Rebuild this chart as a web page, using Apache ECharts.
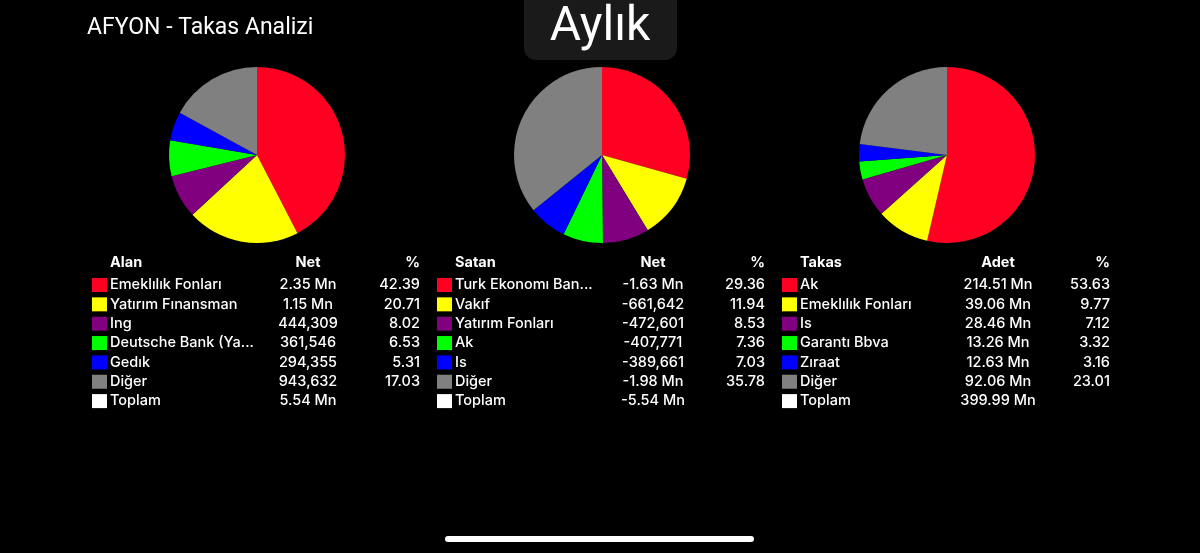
<!DOCTYPE html>
<html>
<head>
<meta charset="utf-8">
<title>AFYON - Takas Analizi</title>
<script src="https://cdn.jsdelivr.net/npm/echarts@6.0.0/dist/echarts.min.js"></script>
<style>
  html, body { margin: 0; padding: 0; background: #000; }
  #chart { width: 1200px; height: 553px; }
</style>
</head>
<body>
<div id="chart"></div>
<script>
// dilim renkleri (kırmızı, sarı, mor, yeşil, mavi, gri)
const sliceColors = ['#ff0022', '#ffff00', '#800080', '#00ff00', '#0000ff', '#808080'];

// Alan
const alanNames = ['Emeklılık Fonları', 'Yatırım Fınansman', 'Ing', 'Deutsche Bank (Ya...', 'Gedık', 'Diğer'];
const alanNet = ['2.35 Mn', '1.15 Mn', '444,309', '361,546', '294,355', '943,632'];
const alanPct = [42.39, 20.71, 8.02, 6.53, 5.31, 17.03];
const alanTotal = '5.54 Mn';

// Satan
const satanNames = ['Turk Ekonomı Ban...', 'Vakıf', 'Yatırım Fonları', 'Ak', 'Is', 'Diğer'];
const satanNet = ['-1.63 Mn', '-661,642', '-472,601', '-407,771', '-389,661', '-1.98 Mn'];
const satanPct = [29.36, 11.94, 8.53, 7.36, 7.03, 35.78];
const satanTotal = '-5.54 Mn';

// Takas
const takasNames = ['Ak', 'Emeklılık Fonları', 'Is', 'Garantı Bbva', 'Zıraat', 'Diğer'];
const takasAdet = ['214.51 Mn', '39.06 Mn', '28.46 Mn', '13.26 Mn', '12.63 Mn', '92.06 Mn'];
const takasPct = [53.63, 9.77, 7.12, 3.32, 3.16, 23.01];
const takasTotal = '399.99 Mn';

const FONT = 'Inter, Roboto, sans-serif';

function pieSeries(names, pct, cx) {
  return {
    type: 'pie',
    center: [cx, 155],
    radius: [0, 88],
    startAngle: 90,
    clockwise: true,
    silent: true,
    label: { show: false },
    labelLine: { show: false },
    itemStyle: { borderWidth: 0 },
    emphasis: { disabled: true },
    data: names.map((n, i) => ({ name: n, value: pct[i], itemStyle: { color: sliceColors[i] } }))
  };
}

function table(x0, head, names, vals, pct, total) {
  const els = [];
  const txt = (x, y, s, align, weight) => ({
    type: 'text', x: x, y: y,
    style: { text: s, fill: '#fff', font: weight + ' 14.5px ' + FONT, align: align, verticalAlign: 'middle' }
  });
  const nameX = x0 + 18, netX = x0 + 216, pctX = x0 + 328;
  els.push(txt(nameX, 263, head[0], 'left', 'bold'));
  els.push(txt(netX, 263, head[1], 'center', 'bold'));
  els.push(txt(pctX, 263, '%', 'right', 'bold'));
  const rows = names.concat(['Toplam']);
  rows.forEach((n, i) => {
    const y = 285 + i * 19.35;
    els.push({ type: 'rect', shape: { x: x0, y: y - 7, width: 15, height: 14 },
      style: { fill: i < 6 ? sliceColors[i] : '#ffffff' } });
    els.push(txt(nameX, y, n, 'left', '500'));
    els.push(txt(netX, y, i < 6 ? vals[i] : total, 'center', '500'));
    if (i < 6) els.push(txt(pctX, y, pct[i].toFixed(2), 'right', '500'));
  });
  return els;
}

const chart = echarts.init(document.getElementById('chart'));
chart.setOption({
  backgroundColor: '#000',
  animation: false,
  graphic: [
    { type: 'text', x: 87, y: 28,
      style: { text: 'AFYON - Takas Analizi', fill: '#fff', font: '23px Roboto, sans-serif', verticalAlign: 'middle' } },
    { type: 'rect', shape: { x: 524, y: -20, width: 153, height: 80, r: 12 }, style: { fill: '#1a1a1a' } },
    { type: 'text', x: 600, y: 28,
      style: { text: 'Aylık', fill: '#fff', font: '48px Roboto, sans-serif', align: 'center', verticalAlign: 'middle' } },
    ...table(92, ['Alan', 'Net'], alanNames, alanNet, alanPct, alanTotal),
    ...table(437, ['Satan', 'Net'], satanNames, satanNet, satanPct, satanTotal),
    ...table(782, ['Takas', 'Adet'], takasNames, takasAdet, takasPct, takasTotal),
    { type: 'rect', shape: { x: 445, y: 536, width: 309, height: 6, r: 3 }, style: { fill: '#fff' } }
  ],
  series: [
    pieSeries(alanNames, alanPct, 257),
    pieSeries(satanNames, satanPct, 602),
    pieSeries(takasNames, takasPct, 947)
  ]
});
</script>
</body>
</html>
